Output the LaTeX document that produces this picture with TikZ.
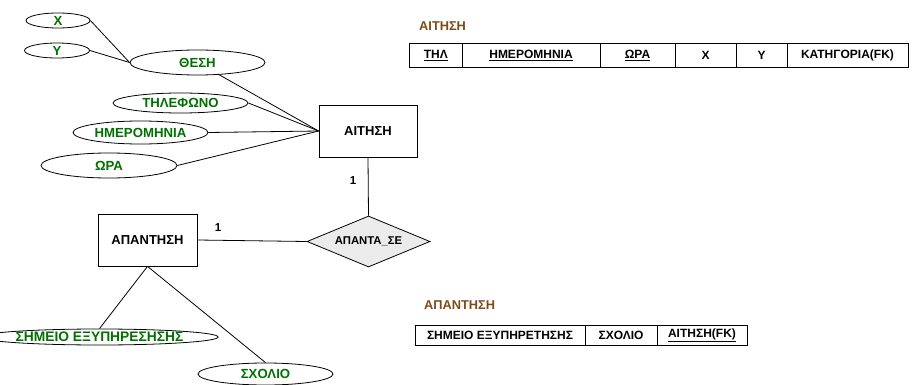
\documentclass[tikz,border=0pt]{standalone}
\usepackage{fontspec}
\setmainfont{Liberation Sans}[UprightFont=* Bold, BoldFont=* Bold]
\usetikzlibrary{shapes.geometric}
\definecolor{attrgreen}{RGB}{0,112,0}
\definecolor{titlebrown}{RGB}{125,75,25}
\definecolor{relfill}{RGB}{235,235,235}
\tikzset{
  attr/.style={draw, ellipse, inner sep=0pt, line width=0.8pt, text=attrgreen, font=\fontsize{13.2}{15}\selectfont},
  entity/.style={draw, rectangle, inner sep=0pt, line width=0.8pt, minimum width=98pt, minimum height=52pt, font=\fontsize{13}{15}\selectfont},
  rel/.style={draw, diamond, aspect=2.4, inner sep=0pt, line width=0.8pt, fill=relfill, minimum width=123pt, minimum height=51pt, font=\fontsize{11.3}{13}\selectfont},
  conn/.style={line width=0.8pt},
  card/.style={font=\fontsize{11.5}{13}\selectfont},
  cell/.style={draw, rectangle, inner sep=0pt, line width=0.8pt, font=\fontsize{12}{14}\selectfont},
  tabtitle/.style={anchor=west, inner sep=0pt, text=titlebrown, font=\fontsize{12.8}{14}\selectfont}
}
\begin{document}
\begin{tikzpicture}[x=1pt,y=-1pt]
\useasboundingbox (0,0) rectangle (913,385);
% ER attributes
\node[attr, minimum width=64pt, minimum height=15pt] (x) at (58,20.5) {X};
\node[attr, minimum width=65pt, minimum height=15pt] (y) at (57,50.5) {Y};
\node[attr, minimum width=135pt, minimum height=25pt] (thesi) at (197.5,62.5) {ΘΕΣΗ};
\node[attr, minimum width=135pt, minimum height=20pt] (til) at (180.5,103) {ΤΗΛΕΦΩΝΟ};
\node[attr, minimum width=135pt, minimum height=23pt] (imer) at (140.5,132.5) {ΗΜΕΡΟΜΗΝΙΑ};
\node[attr, minimum width=136pt, minimum height=25pt] (ora) at (109,165.5) {ΩΡΑ};
\node[attr, minimum width=195pt, minimum height=16pt, font=\fontsize{13.8}{15}\selectfont] (simeio) at (99.5,337) {ΣΗΜΕΙΟ ΕΞΥΠΗΡΕΣΗΣΗΣ};
\node[attr, minimum width=135pt, minimum height=22pt] (sxolio) at (265.5,374) {ΣΧΟΛΙΟ};
% entities and relationship
\node[entity] (aitisi) at (368,131) {ΑΙΤΗΣΗ};
\node[entity, minimum width=99pt] (apantisi) at (147.5,240) {ΑΠΑΝΤΗΣΗ};
\node[rel] (apanta) at (368.5,241.5) {ΑΠΑΝΤΑ\_ΣΕ};
% connectors
\draw[conn] (x.east) -- (thesi.west);
\draw[conn] (y.east) -- (thesi.west);
\draw[conn] (thesi) -- (aitisi.west);
\draw[conn] (til.east) -- (aitisi.west);
\draw[conn] (imer.east) -- (aitisi.west);
\draw[conn] (ora.east) -- (aitisi.west);
\draw[conn] (aitisi.south) -- (apanta.north);
\draw[conn] (apantisi.east) -- (apanta.west);
\draw[conn] (apantisi.south) -- (simeio.north);
\draw[conn] (apantisi.south) -- (sxolio.north);
\node[card] (c1) at (353,181) {1};
\node[card] (c2) at (218,228) {1};
% relational tables
\node[tabtitle] (t1) at (419,26) {ΑΙΤΗΣΗ};
\node[cell, minimum width=52.5pt, minimum height=24pt] (t1a) at (435.75,55.3) {\underline{ΤΗΛ}};
\node[cell, minimum width=138pt, minimum height=24pt] (t1b) at (531,55.3) {\underline{ΗΜΕΡΟΜΗΝΙΑ}};
\node[cell, minimum width=75pt, minimum height=24pt] (t1c) at (637.5,55.3) {\underline{ΩΡΑ}};
\node[cell, minimum width=61pt, minimum height=24pt] (t1d) at (705.5,55.3) {X};
\node[cell, minimum width=51pt, minimum height=24pt] (t1e) at (761.5,55.3) {Y};
\node[cell, minimum width=121pt, minimum height=24pt] (t1f) at (847.5,55.3) {ΚΑΤΗΓΟΡΙΑ(FK)};
\node[tabtitle] (t2) at (424,305) {ΑΠΑΝΤΗΣΗ};
\node[cell, minimum width=170pt, minimum height=20pt] (t2a) at (500,335) {ΣΗΜΕΙΟ ΕΞΥΠΗΡΕΤΗΣΗΣ};
\node[cell, minimum width=72pt, minimum height=20pt] (t2b) at (621,335) {ΣΧΟΛΙΟ};
\node[cell, minimum width=90pt, minimum height=20pt] (t2c) at (702,335) {\underline{ΑΙΤΗΣΗ(FK)}};
\end{tikzpicture}
\end{document}
